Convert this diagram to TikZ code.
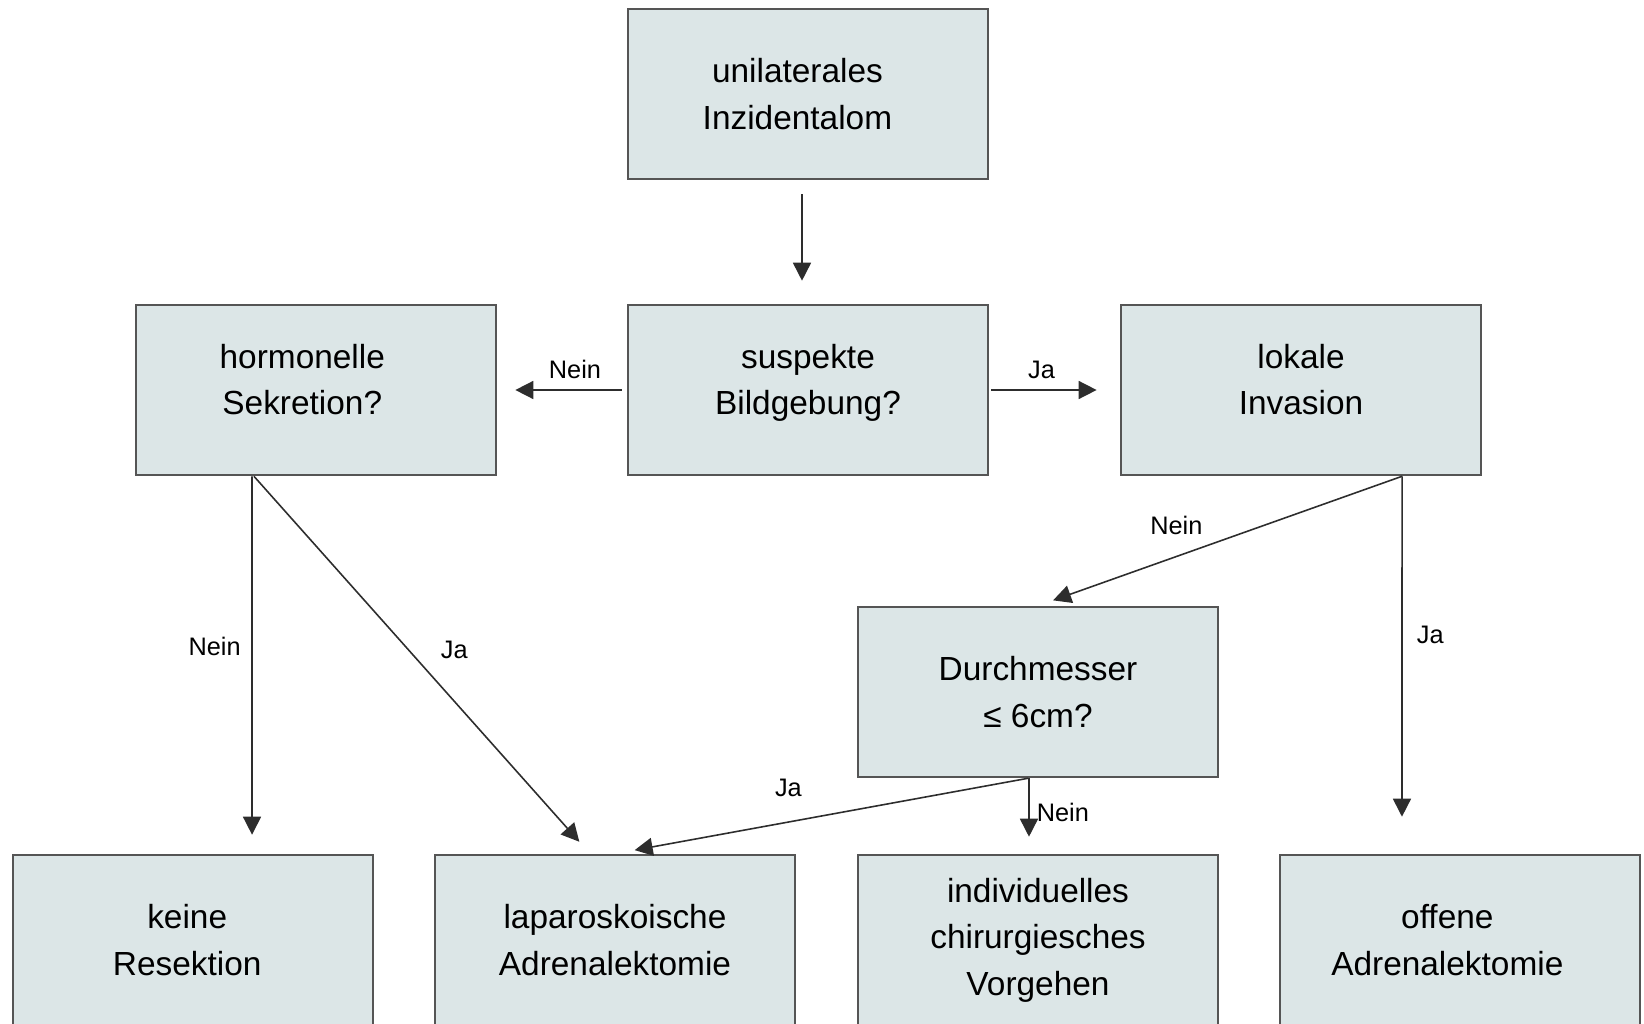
\documentclass[tikz,border=0pt]{standalone}
\usepackage{fontspec}
\setmainfont{Liberation Sans}
\usetikzlibrary{arrows.meta}
\definecolor{boxfill}{RGB}{220,230,231}
\definecolor{boxline}{RGB}{85,85,85}
\definecolor{arrowgray}{RGB}{45,45,45}

\begin{document}
\begin{tikzpicture}[x=0.01cm, y=-0.01cm,
    box/.style={draw=boxline, fill=boxfill, line width=0.7pt, align=center,
                minimum width=3.6cm, minimum height=1.7cm, inner sep=0pt,
                font=\fontsize{9.5}{13.2}\selectfont},
    midbox/.style={box, text depth=6pt},
    arr/.style={draw=arrowgray, line width=0.45pt,
                -{Triangle[length=0.18cm, width=0.18cm]}},
    lbl/.style={font=\fontsize{7.2}{8}\selectfont, inner sep=1pt}
]
\useasboundingbox (0,0) rectangle (1644,1024);
\node[box] (inz) at (808,94) {\hspace*{-6pt}unilaterales\\\hspace*{-6pt}Inzidentalom};
\node[midbox] (hormon) at (316,390) {\hspace*{-7.8pt}hormonelle\\\hspace*{-7.8pt}Sekretion?};
\node[midbox] (bild) at (808,390) {suspekte\\Bildgebung?};
\node[midbox] (invas) at (1301,390) {lokale\\Invasion};
\node[box] (durch) at (1038,692) {Durchmesser\\≤ 6cm?};
\node[box] (keine) at (193,940) {\hspace*{-3.3pt}keine\\\hspace*{-3.3pt}Resektion};
\node[box] (lapar) at (615,940) {laparoskoische\\Adrenalektomie};
\node[box] (indiv) at (1038,940) {individuelles\\chirurgiesches\\Vorgehen};
\node[box] (offen) at (1460,940) {\hspace*{-7.2pt}offene\\\hspace*{-7.2pt}Adrenalektomie};
\draw[arr, shorten <=0.14cm, shorten >=0.23cm] ([xshift=-0.06cm]inz.south) -- ([xshift=-0.06cm]bild.north);
\draw[arr, shorten <=0.05cm, shorten >=0.18cm] (bild.west) -- node[lbl, above=2pt, pos=0.4] {Nein} (hormon.east);
\draw[arr, shorten <=0.02cm, shorten >=0.23cm] (bild.east) -- node[lbl, above=2pt, pos=0.4] {Ja} (invas.west);
\draw[arr, shorten >=0.16cm] ([xshift=1.01cm]invas.south) -- node[lbl, above=5pt, pos=0.62] {Nein} (durch.north);
\draw[arr, shorten >=0.37cm] ([xshift=1.01cm]invas.south) -- node[lbl, right=3pt, pos=0.42] {Ja} ([xshift=-0.58cm]offen.north);
\draw[arr, shorten >=0.19cm] ([xshift=-0.64cm]hormon.south) -- node[lbl, left=2pt, pos=0.45] {Nein} ([xshift=0.59cm]keine.north);
\draw[arr, shorten >=0.16cm] ([xshift=-0.62cm]hormon.south) -- node[lbl, right=8pt, pos=0.46] {Ja} (lapar.north -| 590,0);
\draw[arr, shorten >=0.2cm] ([xshift=-0.1cm]durch.south) -- node[lbl, above=6pt, pos=0.58] {Ja} (lapar.north);
\draw[arr, shorten >=0.17cm] ([xshift=-0.09cm]durch.south) -- node[lbl, right=1pt, pos=0.45] {Nein} ([xshift=-0.09cm]indiv.north);
\end{tikzpicture}
\end{document}
